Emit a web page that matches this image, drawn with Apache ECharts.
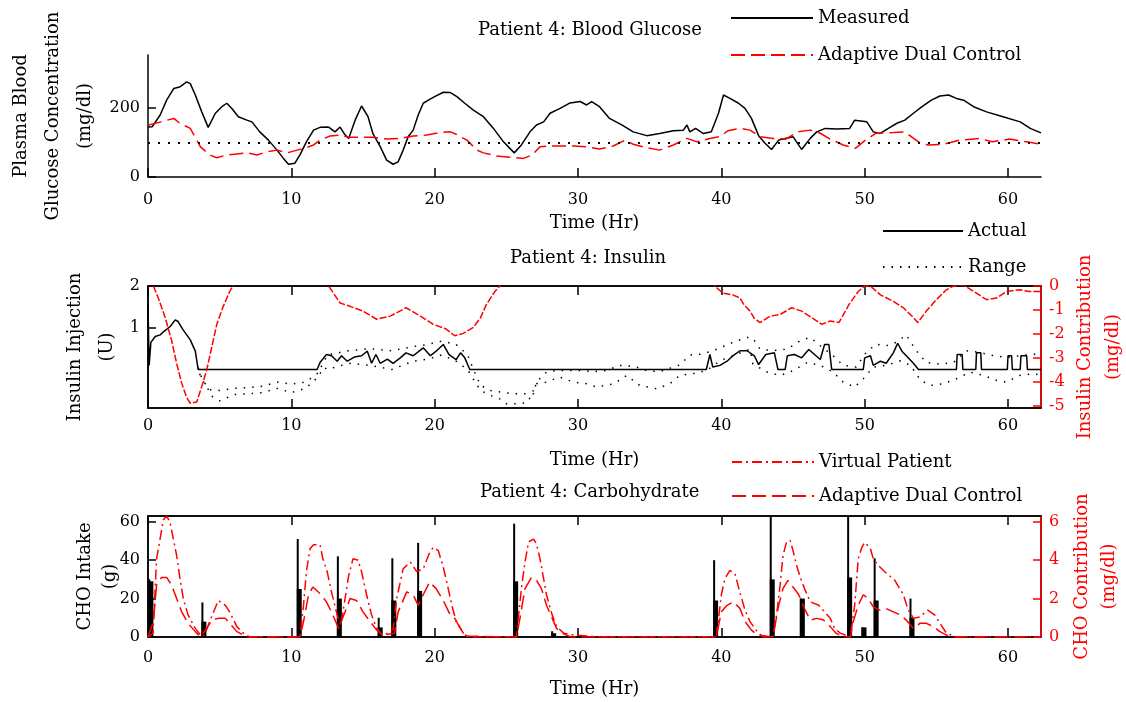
<!DOCTYPE html>
<html>
<head>
<meta charset="utf-8">
<script src="https://cdn.jsdelivr.net/npm/echarts@6/dist/echarts.min.js"></script>
<style>
  html, body { margin: 0; padding: 0; background: #fff; }
  #main { width: 1126px; height: 702px; }
</style>
</head>
<body>
<div id="main"></div>
<script>
// ---- data ----
// time axis ticks (hours)
var timeTicks = [0, 10, 20, 30, 40, 50, 60];
var timeMax = 62.3;

// Blood glucose (mg/dl)
var bgTicks = [0, 200];
var targetBG = 100;
var bgMeasured = [[0,145],[0.3,146],[0.85,180],[1.3,223],[1.8,257],[2.25,262],[2.7,276],[2.95,271],[3.3,238],[3.75,189],[4.2,144],[4.7,185],[5.15,204],[5.5,214],[5.85,199],[6.3,175],[6.9,165],[7.25,160],[7.8,131],[8.4,107],[9.0,78],[9.45,54],[9.8,37],[10.25,40],[10.6,64],[11.05,102],[11.55,136],[12.0,144],[12.6,145],[13.05,131],[13.4,145],[13.7,125],[14.0,112],[14.45,165],[14.9,206],[15.35,175],[15.7,125],[16.2,88],[16.65,49],[17.1,37],[17.45,44],[17.8,78],[18.15,117],[18.5,136],[18.85,180],[19.2,214],[19.65,225],[20.0,233],[20.6,246],[21.1,245],[21.55,233],[22.1,214],[22.7,194],[23.4,175],[24.1,141],[24.8,102],[25.55,70],[26.05,93],[26.65,131],[27.1,151],[27.6,160],[28.05,185],[28.75,199],[29.45,215],[30.15,219],[30.6,209],[30.95,219],[31.5,204],[32.2,170],[33.05,151],[33.85,131],[34.8,120],[35.7,126],[36.65,134],[37.35,136],[37.6,151],[37.8,131],[38.2,141],[38.75,126],[39.3,131],[39.8,185],[40.15,238],[40.6,228],[41.2,214],[41.65,199],[42.1,170],[42.6,120],[43.05,98],[43.5,80],[44.0,107],[44.45,112],[45.0,117],[45.6,80],[46.2,112],[46.65,131],[47.25,141],[48.05,139],[48.95,141],[49.3,165],[50.15,160],[50.6,131],[51.05,126],[51.65,141],[52.25,156],[52.8,165],[53.4,185],[54.0,204],[54.65,223],[55.25,235],[55.85,238],[56.4,228],[56.9,223],[57.6,204],[58.5,189],[59.65,175],[60.85,160],[61.55,141],[62.3,128]];
var bgAdaptive = [[0,150],[0.9,160],[1.8,170],[2.25,155],[2.95,141],[3.3,115],[3.65,88],[4.3,64],[4.8,56],[5.5,64],[6.2,67],[6.9,70],[7.6,64],[8.3,73],[9.0,78],[9.7,70],[10.4,78],[11.05,85],[11.55,93],[12.0,107],[12.7,119],[13.4,122],[14.0,115],[14.8,115],[15.7,115],[16.65,110],[17.6,112],[18.5,119],[19.45,122],[20.4,129],[21.1,131],[21.5,124],[21.8,117],[22.25,107],[22.95,78],[23.4,70],[24.3,61],[25.25,57],[26.2,54],[26.8,64],[27.35,88],[28.3,90],[29.7,90],[30.6,88],[31.5,81],[32.45,90],[33.3,107],[33.85,95],[34.8,85],[35.7,78],[36.65,93],[37.6,112],[38.3,102],[39.2,112],[39.9,117],[40.45,134],[41.3,141],[42.0,136],[42.7,117],[43.6,112],[44.5,110],[45.3,131],[46.2,136],[46.9,127],[47.6,110],[48.5,93],[49.35,83],[50.05,107],[50.8,127],[52.0,129],[52.8,131],[53.75,102],[54.4,93],[55.5,95],[56.6,107],[58.0,112],[58.9,102],[60.1,110],[61.3,102],[62.3,95]];

// Insulin (U) and insulin contribution (mg/dl)
var insTicks = [1, 2];
var insContribTicks = [0, -1, -2, -3, -4, -5];
var insActual = [[0,1.55],[0.08,0.1],[0.2,0.65],[0.5,0.79],[0.85,0.83],[1.1,0.91],[1.55,1.03],[1.9,1.19],[2.1,1.15],[2.45,0.95],[2.95,0.71],[3.3,0.44],[3.5,0],[11.8,0],[12.0,0.17],[12.45,0.36],[12.8,0.33],[13.2,0.2],[13.5,0.33],[13.9,0.2],[14.4,0.3],[14.9,0.33],[15.3,0.44],[15.6,0.15],[15.9,0.36],[16.2,0.15],[16.7,0.25],[17.1,0.15],[17.6,0.28],[18.0,0.4],[18.5,0.33],[19.2,0.52],[19.7,0.33],[20.1,0.44],[20.6,0.6],[21.0,0.36],[21.5,0.24],[21.8,0.4],[22.1,0.28],[22.45,0],[38.95,0],[39.2,0.36],[39.4,0.06],[39.9,0.1],[40.4,0.2],[40.8,0.33],[41.3,0.45],[41.8,0.45],[42.3,0.33],[42.6,0.12],[43.1,0.36],[43.7,0.4],[43.95,0],[44.45,0],[44.6,0.33],[45.1,0.36],[45.6,0.28],[46.1,0.48],[46.5,0.36],[46.9,0.24],[47.2,0.6],[47.5,0.6],[47.7,0],[49.9,0],[50.0,0.28],[50.4,0.33],[50.6,0.1],[51.1,0.2],[51.5,0.15],[52.0,0.4],[52.3,0.63],[52.6,0.44],[52.9,0.33],[53.4,0.15],[53.75,0],[56.4,0],[56.45,0.36],[56.8,0.36],[56.85,0],[57.75,0],[57.8,0.4],[58.1,0.4],[58.15,0],[59.95,0],[60.0,0.33],[60.25,0.33],[60.3,0],[60.85,0],[60.9,0.33],[61.3,0.33],[61.35,0],[62.3,0]];
var insRangeHigh = [[3.5,0.05],[3.8,-0.25],[4.3,-0.48],[5.0,-0.5],[6.0,-0.45],[7.0,-0.43],[8.0,-0.4],[9.0,-0.3],[10.0,-0.35],[11.0,-0.3],[11.8,-0.1],[12.3,0.2],[12.5,0.35],[14.0,0.45],[15.5,0.5],[17.0,0.45],[18.5,0.55],[19.5,0.6],[20.5,0.68],[21.5,0.6],[22.3,0.35],[22.7,0.0],[23.2,-0.38],[23.9,-0.5],[24.6,-0.54],[25.5,-0.58],[26.9,-0.58],[27.1,-0.3],[27.8,-0.06],[28.5,-0.02],[30.1,-0.02],[31.1,-0.05],[32.0,-0.02],[32.9,0.1],[33.9,0.08],[34.8,-0.03],[35.7,-0.05],[37.1,0.11],[37.8,0.35],[38.7,0.37],[39.7,0.49],[40.8,0.65],[41.8,0.77],[42.2,0.75],[42.7,0.49],[43.6,0.45],[44.6,0.49],[45.5,0.69],[46.2,0.77],[46.9,0.57],[47.8,0.33],[48.5,0.1],[49.4,0.06],[50.1,0.41],[50.8,0.61],[51.5,0.57],[52.2,0.65],[52.9,0.83],[53.6,0.45],[54.3,0.17],[55.25,0.13],[56.2,0.17],[57.1,0.45],[58.0,0.41],[59.0,0.33],[59.9,0.29],[60.8,0.33],[61.8,0.37],[62.3,0.33]];
var insRangeLow = [[3.6,-0.1],[3.9,-0.3],[4.5,-0.65],[5.0,-0.75],[6.0,-0.6],[7.0,-0.58],[8.0,-0.55],[9.0,-0.45],[10.0,-0.55],[11.0,-0.45],[11.8,-0.2],[12.3,0.05],[12.5,0.0],[14.0,0.15],[15.5,0.1],[17.0,0.0],[18.5,0.2],[19.5,0.25],[20.5,0.35],[21.5,0.2],[22.3,0.0],[22.6,-0.18],[23.2,-0.5],[23.9,-0.62],[24.6,-0.71],[25.0,-0.82],[25.95,-0.82],[26.5,-0.78],[27.1,-0.34],[27.8,-0.3],[28.7,-0.18],[29.7,-0.3],[30.6,-0.34],[31.3,-0.42],[32.5,-0.34],[33.4,-0.14],[34.3,-0.38],[35.5,-0.46],[36.4,-0.34],[37.1,-0.14],[38.0,-0.1],[39.0,-0.02],[39.9,0.21],[40.8,0.33],[42.0,0.49],[42.2,0.13],[43.2,-0.06],[44.1,-0.14],[44.8,-0.06],[46.0,0.17],[46.9,0.1],[47.8,-0.06],[48.5,-0.3],[49.3,-0.42],[49.9,-0.22],[50.6,0.06],[51.5,0.1],[52.5,0.21],[53.2,0.1],[53.9,-0.26],[54.6,-0.38],[55.5,-0.34],[56.4,-0.22],[57.35,-0.06],[58.3,-0.14],[59.2,-0.26],[59.9,-0.3],[60.8,-0.14],[61.8,-0.1],[62.3,-0.14]];
var insContrib = [[0,0.3],[0.37,0],[0.72,-0.5],[1.2,-1.32],[1.65,-2.28],[2.0,-3.24],[2.35,-4.06],[2.7,-4.67],[2.95,-4.9],[3.4,-4.85],[3.75,-4.2],[4.1,-3.5],[4.45,-2.55],[4.8,-1.6],[5.25,-0.85],[5.7,-0.23],[6.1,0.2],[6.6,0.8],[12.1,0.6],[12.6,0],[13.4,-0.71],[14.1,-0.85],[15.0,-1.05],[15.95,-1.39],[16.9,-1.26],[18.0,-0.91],[19.0,-1.26],[19.9,-1.6],[20.8,-1.8],[21.4,-2.08],[22.0,-1.98],[22.7,-1.73],[23.2,-1.32],[23.6,-0.78],[24.2,-0.23],[24.55,0],[25.0,0.5],[39.1,0.5],[39.55,0],[40.1,-0.3],[40.8,-0.37],[41.3,-0.5],[41.6,-0.8],[42.0,-1.05],[42.3,-1.35],[42.7,-1.53],[43.4,-1.26],[44.1,-1.19],[44.9,-0.91],[45.6,-1.05],[46.3,-1.32],[47.0,-1.6],[47.6,-1.46],[48.2,-1.53],[48.9,-0.78],[49.55,-0.23],[50.0,0],[50.4,0],[51.1,-0.37],[52.0,-0.64],[52.7,-0.91],[53.4,-1.32],[53.7,-1.53],[54.3,-1.05],[55.0,-0.57],[55.7,-0.16],[56.2,0],[56.9,0.05],[57.6,-0.23],[58.5,-0.57],[59.2,-0.5],[59.9,-0.23],[60.8,-0.16],[61.5,-0.23],[62.3,-0.23]];

// Carbohydrate intake (g) and CHO contribution (mg/dl)
var choTicks = [0, 20, 40, 60];
var choContribTicks = [0, 2, 4, 6];
var mealTimes = [0.2, 3.9, 10.55, 13.35, 16.2, 17.15, 18.95, 25.65, 28.3, 39.6, 43.55, 45.65, 48.95, 49.95, 50.8, 53.3];
var mealFull  = [30, 18, 51, 42, 10, 41, 49, 59, 3, 40, 65, 20, 65, 5, 41, 20];
var mealHalf  = [29, 8, 25, 20, 5, 19, 24, 29, 2, 19, 30, 20, 31, 5, 19, 10];
var choVirtual = [[0,0],[0.35,0.2],[0.6,4.07],[0.84,5.1],[1.07,6.1],[1.3,6.3],[1.53,6.0],[1.77,5.1],[2.0,4.24],[2.23,3.04],[2.46,2.0],[2.8,1.14],[3.3,0.45],[3.75,0.02],[3.95,0.1],[4.3,0.8],[4.9,1.9],[5.4,1.65],[5.7,1.3],[6.2,0.54],[6.65,0.2],[7.1,0],[10.6,0],[10.85,1.65],[11.05,3.4],[11.3,4.6],[11.55,4.8],[12.0,4.8],[12.2,4.07],[12.5,3.4],[12.8,2.35],[13.2,1.14],[13.45,0.6],[13.75,2.0],[14.0,3.2],[14.3,4.07],[14.65,4.0],[14.9,3.4],[15.25,2.2],[15.6,1.14],[15.95,0.45],[16.4,0.05],[16.7,0.2],[17.1,0.4],[17.35,2.0],[17.8,3.55],[18.3,3.9],[18.75,3.4],[19.2,3.55],[19.65,4.4],[19.9,4.67],[20.25,4.5],[20.6,3.64],[20.95,2.5],[21.2,1.65],[21.5,0.8],[22.0,0.2],[22.35,0],[25.7,0],[26.05,2.52],[26.3,3.9],[26.55,4.95],[26.9,5.1],[27.1,4.85],[27.35,4.07],[27.6,3.04],[27.8,2.2],[28.2,1.14],[28.5,0.54],[29.0,0.2],[29.7,0.1],[31.5,0],[39.65,0],[40.0,2.2],[40.25,3.04],[40.6,3.47],[40.95,3.3],[41.3,2.3],[41.65,1.4],[42.0,0.8],[42.5,0.28],[42.9,0],[43.6,0],[43.85,1.14],[44.1,2.7],[44.3,4.24],[44.55,4.95],[44.8,5.03],[45.0,4.5],[45.25,3.72],[45.5,3.12],[45.8,2.52],[46.2,1.83],[46.8,1.65],[47.2,1.31],[47.6,0.97],[47.9,0.45],[48.3,0.2],[49.0,0],[49.3,1.65],[49.55,4.07],[49.8,4.67],[50.0,4.93],[50.4,4.6],[50.6,4.07],[50.95,3.72],[51.4,3.4],[52.1,2.95],[52.7,2.2],[53.0,1.48],[53.4,0.97],[53.85,1.05],[54.4,1.4],[54.9,1.14],[55.25,0.71],[55.7,0.2],[56.4,0],[62.3,0]];
var choAdaptive = [[0,0],[0.37,0.8],[0.6,2.7],[0.95,3.1],[1.3,3.1],[1.65,2.7],[2.0,2.0],[2.35,1.31],[2.8,0.71],[3.3,0.28],[3.65,0],[4.1,0.45],[4.45,0.88],[4.9,0.97],[5.4,0.97],[5.8,0.62],[6.2,0.28],[6.9,0],[10.6,0],[10.85,0.8],[11.2,2.2],[11.5,2.6],[12.0,2.26],[12.45,1.83],[12.9,1.14],[13.3,0.45],[13.75,1.31],[14.1,2.0],[14.55,1.9],[15.0,1.31],[15.5,0.8],[15.95,0.36],[16.4,0.1],[17.2,0.2],[17.45,1.31],[18.05,2.35],[18.5,2.2],[18.85,1.65],[19.2,2.2],[19.65,2.86],[20.1,2.52],[20.6,1.9],[21.05,1.2],[21.4,0.97],[21.8,0.45],[22.2,0.05],[25.7,0],[25.95,0.97],[26.3,2.52],[26.75,3.1],[27.1,2.95],[27.45,2.52],[27.8,1.65],[28.2,0.97],[28.5,0.45],[28.9,0.2],[29.5,0],[39.65,0],[40.0,1.31],[40.4,1.65],[40.85,1.83],[41.3,1.48],[41.65,0.8],[42.1,0.36],[42.5,0.1],[43.6,0],[44.0,1.65],[44.3,2.52],[44.65,2.95],[45.0,2.6],[45.4,2.2],[45.8,1.48],[46.2,0.88],[46.65,0.97],[47.1,0.9],[47.6,0.54],[48.0,0.2],[48.5,0],[49.0,0],[49.2,0.8],[49.55,1.65],[49.9,2.2],[50.25,2.0],[50.6,1.57],[51.05,1.4],[51.5,1.48],[52.0,1.31],[52.5,1.14],[52.9,0.88],[53.4,0.45],[53.85,0.71],[54.3,0.71],[54.8,0.54],[55.25,0.28],[55.7,0.1],[56.2,0],[62.3,0]];

// ---- chart ----
var FONT = 'DejaVu Serif';
var BLACK = '#000';
var RED = '#ff0000';
var chart = echarts.init(document.getElementById('main'), null, { renderer: 'canvas' });

function timeAxis(grid, pos, withLabels, labelMargin, gap) {
  var ax = {
    type: 'value', gridIndex: grid, position: pos,
    min: 0, max: timeMax, interval: 10,
    axisLine: { show: true, onZero: false, lineStyle: { color: BLACK, width: 1.5 } },
    axisTick: { show: true, inside: true, length: 9, customValues: timeTicks, lineStyle: { color: BLACK, width: 1.5 } },
    axisLabel: { show: withLabels, customValues: timeTicks, margin: labelMargin || 9, color: BLACK, fontFamily: FONT, fontSize: 16 },
    splitLine: { show: false }
  };
  if (withLabels) {
    ax.name = 'Time (Hr)';
    ax.nameLocation = 'middle';
    ax.nameGap = gap;
    ax.nameMoveOverlap = false;
    ax.nameTextStyle = { color: BLACK, fontFamily: FONT, fontSize: 18 };
  }
  return ax;
}

function valAxis(grid, pos, min, max, ticks, color, name, gap, lh) {
  return {
    type: 'value', gridIndex: grid, position: pos, min: min, max: max,
    axisLine: { show: true, onZero: false, lineStyle: { color: color, width: 1.5 } },
    axisTick: { show: true, inside: true, length: 8, customValues: ticks, lineStyle: { color: color, width: 1.5 } },
    axisLabel: { customValues: ticks, margin: 8, color: color, fontFamily: FONT, fontSize: 16 },
    splitLine: { show: false },
    name: name, nameLocation: 'middle', nameRotate: 90, nameGap: gap, nameMoveOverlap: false,
    nameTextStyle: { color: color, fontFamily: FONT, fontSize: 18, lineHeight: lh }
  };
}

var titleStyle = { color: BLACK, fontFamily: FONT, fontSize: 18, fontWeight: 'normal', lineHeight: 22 };
var legendText = { color: BLACK, fontFamily: FONT, fontSize: 18, lineHeight: 20 };

var option = {
  animation: false,
  backgroundColor: '#fff',
  title: [
    { text: 'Patient 4: Blood Glucose', left: 478, top: 19, padding: 0, textStyle: titleStyle },
    { text: 'Patient 4: Insulin', left: 510, top: 247, padding: 0, textStyle: titleStyle },
    { text: 'Patient 4: Carbohydrate', left: 480, top: 481, padding: 0, textStyle: titleStyle }
  ],
  legend: [
    { orient: 'vertical', left: 730, top: 8, padding: 0, itemWidth: 82, itemHeight: 14, itemGap: 17,
      data: ['Measured', 'Adaptive Dual Control'], textStyle: legendText, itemStyle: { opacity: 0 } },
    { orient: 'vertical', left: 882, top: 221, padding: 0, itemWidth: 80, itemHeight: 14, itemGap: 16,
      data: ['Actual', 'Range'], textStyle: legendText, itemStyle: { opacity: 0 } },
    { orient: 'vertical', left: 731, top: 452, padding: 0, itemWidth: 82, itemHeight: 14, itemGap: 14,
      data: ['Virtual Patient', 'Adaptive Dual Control'], textStyle: legendText, itemStyle: { opacity: 0 } }
  ],
  grid: [
    { left: 148, right: 85, top: 55, height: 122, show: false, outerBoundsMode: 'none', containLabel: false },
    { left: 148, right: 85, top: 286, height: 122, show: true, borderColor: BLACK, borderWidth: 1.5, outerBoundsMode: 'none', containLabel: false },
    { left: 148, right: 85, top: 516, height: 121, show: true, borderColor: BLACK, borderWidth: 1.5, outerBoundsMode: 'none', containLabel: false }
  ],
  xAxis: [
    timeAxis(0, 'bottom', true, 15, 37),
    timeAxis(1, 'bottom', true, 10, 43),
    timeAxis(1, 'top', false),
    timeAxis(2, 'bottom', true, 13, 43),
    timeAxis(2, 'top', false)
  ],
  yAxis: [
    valAxis(0, 'left', 0, 354, bgTicks, BLACK, 'Plasma Blood\nGlucose Concentration\n(mg/dl)', 47, 32),
    valAxis(1, 'left', -0.92, 2, insTicks, BLACK, 'Insulin Injection\n(U)', 25, 32),
    valAxis(1, 'right', -5.1, 0, insContribTicks, RED, 'Insulin Contribution\n(mg/dl)', 30, 28),
    valAxis(2, 'left', 0, 63, choTicks, BLACK, 'CHO Intake\n(g)', 25, 25),
    valAxis(2, 'right', 0, 6.3, choContribTicks, RED, 'CHO Contribution\n(mg/dl)', 28, 27)
  ],
  series: [
    { name: 'Measured', type: 'line', xAxisIndex: 0, yAxisIndex: 0, data: bgMeasured,
      symbol: 'none', lineStyle: { color: BLACK, width: 1.5 }, itemStyle: { color: BLACK },
      markLine: { silent: true, symbol: ['none', 'none'], label: { show: false },
        lineStyle: { color: BLACK, type: [2, 8], width: 2 }, data: [{ yAxis: targetBG }] } },
    { name: 'Adaptive Dual Control', type: 'line', xAxisIndex: 0, yAxisIndex: 0, data: bgAdaptive,
      symbol: 'none', lineStyle: { color: RED, width: 1.5, type: [14, 6] }, itemStyle: { color: RED } },

    { name: 'Actual', type: 'line', xAxisIndex: 1, yAxisIndex: 1, data: insActual,
      symbol: 'none', lineStyle: { color: BLACK, width: 1.5 }, itemStyle: { color: BLACK } },
    { name: 'Range', type: 'line', xAxisIndex: 1, yAxisIndex: 1, data: insRangeHigh,
      symbol: 'none', lineStyle: { color: BLACK, width: 1.5, type: [1.5, 7] }, itemStyle: { color: BLACK } },
    { name: 'Range', type: 'line', xAxisIndex: 1, yAxisIndex: 1, data: insRangeLow,
      symbol: 'none', lineStyle: { color: BLACK, width: 1.5, type: [1.5, 7] }, itemStyle: { color: BLACK } },
    { name: 'Insulin Contribution', type: 'line', xAxisIndex: 1, yAxisIndex: 2, data: insContrib,
      symbol: 'none', clip: true, lineStyle: { color: RED, width: 1.5, type: [7, 2] }, itemStyle: { color: RED } },

    { name: 'CHO Intake', type: 'bar', xAxisIndex: 3, yAxisIndex: 3, barWidth: 2, barGap: '-100%',
      data: mealTimes.map(function (t, i) { return [t, mealFull[i]]; }), itemStyle: { color: BLACK } },
    { name: 'CHO Intake Half', type: 'bar', xAxisIndex: 3, yAxisIndex: 3, barWidth: 5, barGap: '-100%',
      data: mealTimes.map(function (t, i) { return [t, mealHalf[i]]; }), itemStyle: { color: BLACK } },
    { name: 'Virtual Patient', type: 'line', xAxisIndex: 3, yAxisIndex: 4, data: choVirtual,
      symbol: 'none', lineStyle: { color: RED, width: 1.5, type: [10, 4, 2, 4] }, itemStyle: { color: RED } },
    { name: 'Adaptive Dual Control', type: 'line', xAxisIndex: 3, yAxisIndex: 4, data: choAdaptive,
      symbol: 'none', lineStyle: { color: RED, width: 1.5, type: [14, 6] }, itemStyle: { color: RED } }
  ]
};

chart.setOption(option);
</script>
</body>
</html>
